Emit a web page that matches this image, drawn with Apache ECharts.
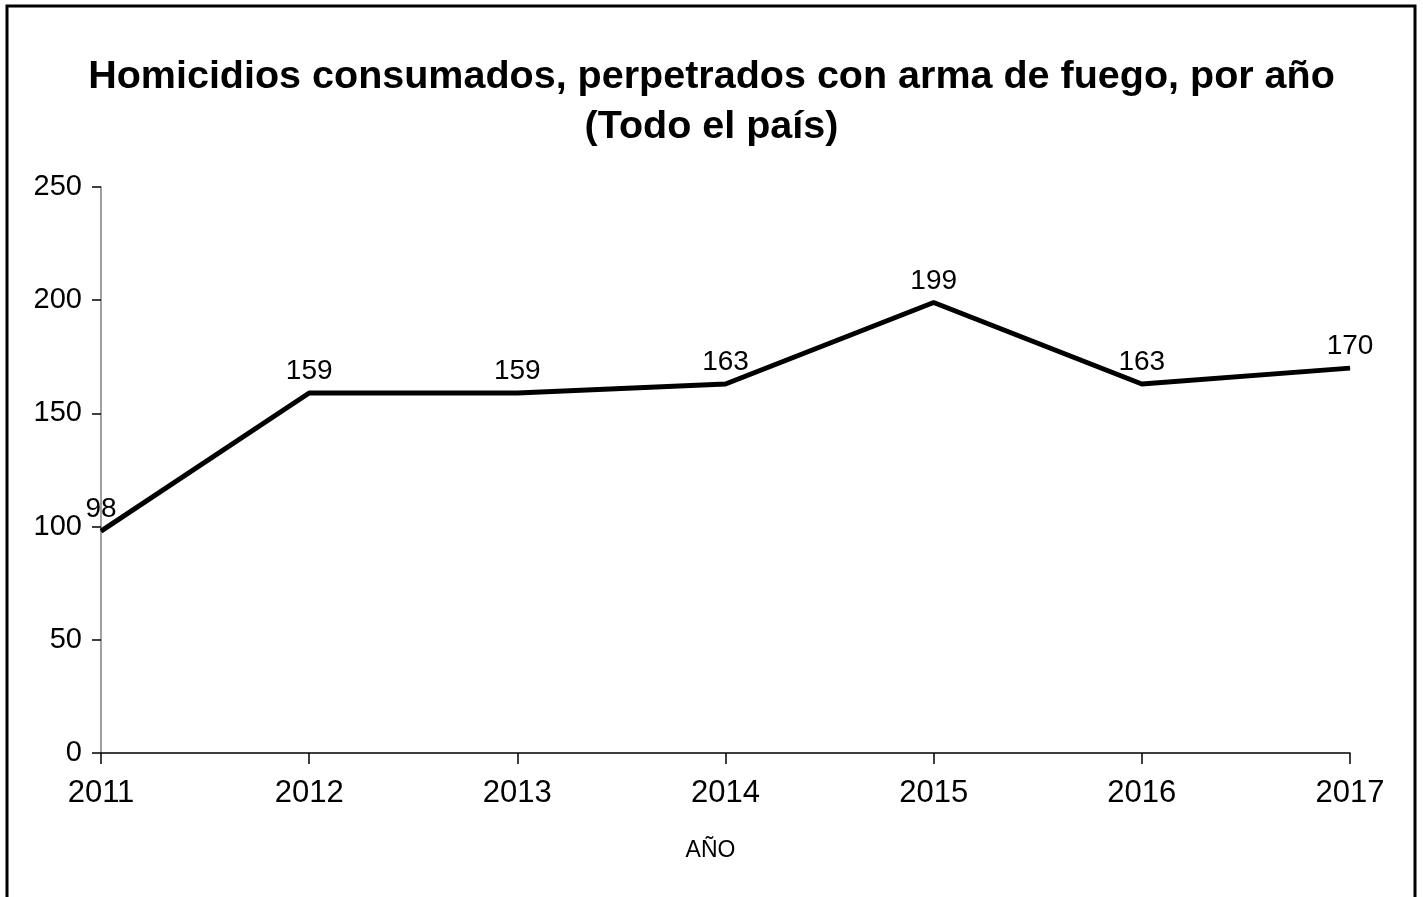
<!DOCTYPE html>
<html>
<head>
<meta charset="utf-8">
<script src="https://cdn.jsdelivr.net/npm/echarts@6/dist/echarts.min.js"></script>
<style>
	html,body{margin:0;padding:0;background:#fff;}
	#main{width:1423px;height:897px;}
</style>
</head>
<body>
<div id="main"></div>
<script>
//年份
var years = ['2011', '2012', '2013', '2014', '2015', '2016', '2017'];
//每年的命案数
var homicidios = [98, 159, 159, 163, 199, 163, 170];
//纵轴刻度
var yMin = 0, yMax = 250, yStep = 50;

var myChart = echarts.init(document.getElementById('main'));
var fontName = 'Arial, "Liberation Sans", sans-serif';

var option = {
	backgroundColor: '#fff',
	animation: false,
	title: {
		text: 'Homicidios consumados, perpetrados con arma de fuego, por año\n(Todo el país)',
		left: 'center',
		top: 47,
		textStyle: {
			fontFamily: fontName,
			fontWeight: 'bold',
			fontSize: 39.5,
			lineHeight: 50,
			color: '#000'
		}
	},
	//外边框
	graphic: [{
		type: 'rect',
		shape: {x: 7, y: 6, width: 1408, height: 1000},
		style: {fill: 'none', stroke: '#000', lineWidth: 3},
		silent: true
	}],
	grid: {
		left: 101,
		right: 73,
		top: 187,
		bottom: 144
	},
	xAxis: {
		type: 'category',
		boundaryGap: false,
		data: years,
		name: 'AÑO',
		nameLocation: 'middle',
		nameGap: 86,
		nameTextStyle: {
			fontFamily: fontName,
			fontSize: 23,
			color: '#000',
			padding: [0, 30, 0, 0]
		},
		axisLine: {lineStyle: {color: '#000', width: 1.5}},
		axisTick: {
			alignWithLabel: true,
			length: 11,
			lineStyle: {color: '#000', width: 1.5}
		},
		axisLabel: {
			margin: 25,
			fontFamily: fontName,
			fontSize: 31,
			color: '#000'
		},
		splitLine: {show: false}
	},
	yAxis: {
		type: 'value',
		min: yMin,
		max: yMax,
		interval: yStep,
		axisLine: {show: true, lineStyle: {color: '#808080', width: 1.5}},
		axisTick: {
			show: true,
			length: 9,
			lineStyle: {color: '#000', width: 1.5}
		},
		axisLabel: {
			margin: 19,
			fontFamily: fontName,
			fontSize: 29,
			color: '#000'
		},
		splitLine: {show: false}
	},
	series: [{
		type: 'line',
		data: homicidios,
		symbol: 'circle',
		symbolSize: 1,
		showSymbol: true,
		lineStyle: {color: '#000', width: 5},
		itemStyle: {color: '#000'},
		label: {
			show: true,
			position: 'top',
			distance: 7,
			fontFamily: fontName,
			fontSize: 28,
			color: '#000'
		}
	}]
};
myChart.setOption(option);
</script>
</body>
</html>
